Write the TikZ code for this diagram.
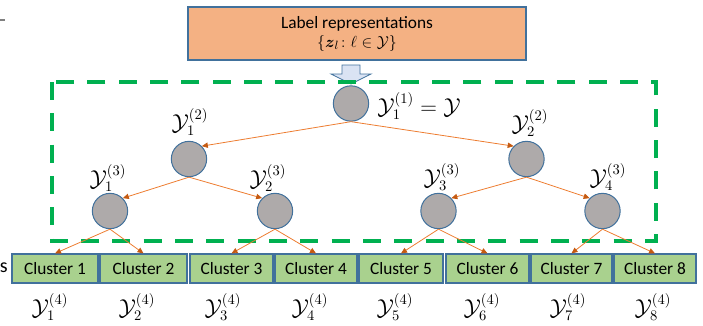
\documentclass[tikz,border=0pt]{standalone}
\usepackage{amsmath}
\usepackage{fontspec}
\setmainfont{Carlito}
\usetikzlibrary{arrows.meta}
\definecolor{boxorange}{HTML}{F4B183}
\definecolor{boxgreen}{HTML}{A9D18E}
\definecolor{edgeblue}{HTML}{41719C}
\definecolor{nodegray}{HTML}{AEAAAA}
\definecolor{treeorange}{HTML}{ED7D31}
\definecolor{darkorange}{HTML}{C55A11}
\definecolor{groupgreen}{HTML}{00B050}
\definecolor{arrowblue}{HTML}{DAE3F3}

\begin{document}
\begin{tikzpicture}[
  x=0.75pt,
  y=-0.75pt,
  tree node/.style={
    circle,
    draw=edgeblue,
    fill=nodegray,
    line width=0.75pt,
    minimum size=26.5pt,
    inner sep=0pt
  },
  cluster box/.style={
    draw=edgeblue,
    fill=boxgreen,
    line width=0.9pt,
    minimum height=21.75pt,
    inner sep=0pt,
    font=\fontsize{13}{15}\selectfont
  },
  tree edge/.style={
    treeorange,
    line width=0.6pt,
    -{Triangle[length=4.5pt,width=4pt,color=darkorange]}
  },
  ylabel/.style={
    font=\fontsize{16}{18}\selectfont
  },
]
\useasboundingbox (0,0) rectangle (703,325);
\draw[gray, line width=1.2pt] (0,20) -- (5,20);
\node[draw=edgeblue, fill=boxorange, line width=0.9pt,
  minimum width=338*0.75pt, minimum height=53*0.75pt, align=center,
  font=\fontsize{13}{14.25}\selectfont] (rep) at (357,33.5)
  {Label representations\\ $\{\boldsymbol{z}_l\colon \ell\in\mathcal{Y}\}$};
\draw[draw=edgeblue, fill=arrowblue, line width=0.6pt]
  (342,65) -- (360,65) -- (360,74) -- (371,74) -- (351,84) -- (331,74) -- (342,74) -- cycle;
\draw[groupgreen, line width=2.6pt, dash pattern=on 13.5pt off 10pt]
  (52,82) rectangle (656,241);

\node[tree node] (root) at (351,103.5) {};
\node[tree node] (l2a) at (189,159) {};
\node[tree node] (l2b) at (526.5,159) {};
\node[tree node] (l3a) at (110,211) {};
\node[tree node] (l3b) at (275,211) {};
\node[tree node] (l3c) at (438.5,211) {};
\node[tree node] (l3d) at (602.5,211) {};

\foreach \i/\cx/\w in {1/55/86, 2/143.5/87, 3/231.5/83, 4/316/82,
                       5/401/84, 6/487.5/83, 7/571.5/81, 8/655/82}
  \node[cluster box, minimum width=\w*0.75pt] (c\i) at (\cx,268.5) {Cluster \i};

\foreach \p/\a/\b in {root/l2a/l2b, l2a/l3a/l3b, l2b/l3c/l3d} {
  \draw[tree edge] (\p.south) -- (\a.north east);
  \draw[tree edge] (\p.south) -- (\b.north west);
}
\foreach \p/\a/\b in {l3a/c1/c2, l3b/c3/c4, l3c/c5/c6, l3d/c7/c8} {
  \draw[tree edge] (\p.south) -- (\a.north);
  \draw[tree edge] (\p.south) -- (\b.north);
}

\node[ylabel] (t1) at (419,106) {$\mathcal{Y}_1^{(1)}=\mathcal{Y}$};
\node[ylabel] (t2a) at (190,122) {$\mathcal{Y}_1^{(2)}$};
\node[ylabel] (t2b) at (530,123) {$\mathcal{Y}_2^{(2)}$};
\node[ylabel] (t3a) at (108,178) {$\mathcal{Y}_1^{(3)}$};
\node[ylabel] (t3b) at (268,178) {$\mathcal{Y}_2^{(3)}$};
\node[ylabel] (t3c) at (442,177) {$\mathcal{Y}_3^{(3)}$};
\node[ylabel] (t3d) at (608,177) {$\mathcal{Y}_4^{(3)}$};
\foreach \i/\x in {1/50, 2/137, 3/223, 4/310, 5/395, 6/482, 7/568, 8/653}
  \node[ylabel] (y4\i) at (\x,307) {$\mathcal{Y}_{\i}^{(4)}$};
\node[font=\fontsize{15}{17}\selectfont, anchor=east, inner sep=0pt] (cut) at (8,268) {s};
\end{tikzpicture}
\end{document}
